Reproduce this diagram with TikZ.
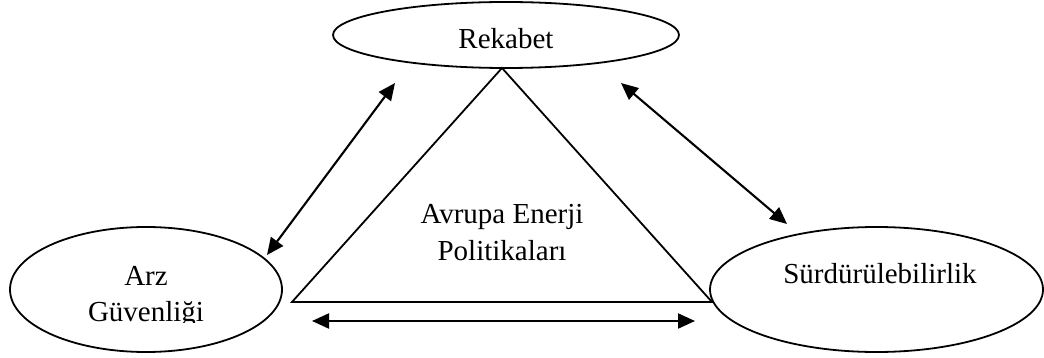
\documentclass[tikz,border=0pt]{standalone}
\usepackage{fontspec}
\setmainfont{Liberation Serif}
\usetikzlibrary{shapes.geometric,arrows.meta}
\tikzset{
  oval/.style={draw, ellipse, line width=1.8pt, inner sep=0pt},
  lbl/.style={anchor=base, inner sep=0pt, font=\fontsize{29}{35}\selectfont},
  biarrow/.style={line width=2.1pt, {Triangle[length=17pt,width=15pt]}-{Triangle[length=17pt,width=15pt]}},
  tri/.style={line width=1.8pt, line join=miter}
}
\begin{document}
\begin{tikzpicture}[x=1pt,y=-1pt]
\useasboundingbox (0,0) rectangle (1044,358);
% ellipses
\node[oval, minimum width=346pt, minimum height=66pt] (rek) at (506,35) {};
\node[oval, minimum width=272pt, minimum height=125pt] (arz) at (146,289.5) {};
\node[oval, minimum width=333pt, minimum height=125pt] (sur) at (876.5,289.5) {};
% labels (clipped at the bottom as in the original)
\begin{scope}
\clip (400,0) rectangle (620,48.5);
\node[lbl] (rekt) at (506,49) {Rekabet};
\end{scope}
\node[lbl] (arzt1) at (146,285) {Arz};
\begin{scope}
\clip (60,295) rectangle (240,322.5);
\node[lbl] (arzt2) at (146,321) {Güvenliği};
\end{scope}
\node[lbl] (surt) at (880,283) {Sürdürülebilirlik};
\node[lbl] (avr1) at (502,224) {Avrupa Enerji};
\node[lbl] (avr2) at (502,260) {Politikaları};
% triangle
\coordinate (apex) at (502,68);
\coordinate (bl) at (292,302);
\coordinate (br) at (712,302);
\draw[tri] (apex) -- (bl) -- (br) -- cycle;
% arrows
\coordinate (a1) at (267,255);
\coordinate (a2) at (395,83);
\coordinate (b1) at (621,83);
\coordinate (b2) at (787,224);
\coordinate (c1) at (312,321);
\coordinate (c2) at (695,321);
\draw[biarrow] (a1) -- (a2);
\draw[biarrow] (b1) -- (b2);
\draw[biarrow] (c1) -- (c2);
\end{tikzpicture}
\end{document}
